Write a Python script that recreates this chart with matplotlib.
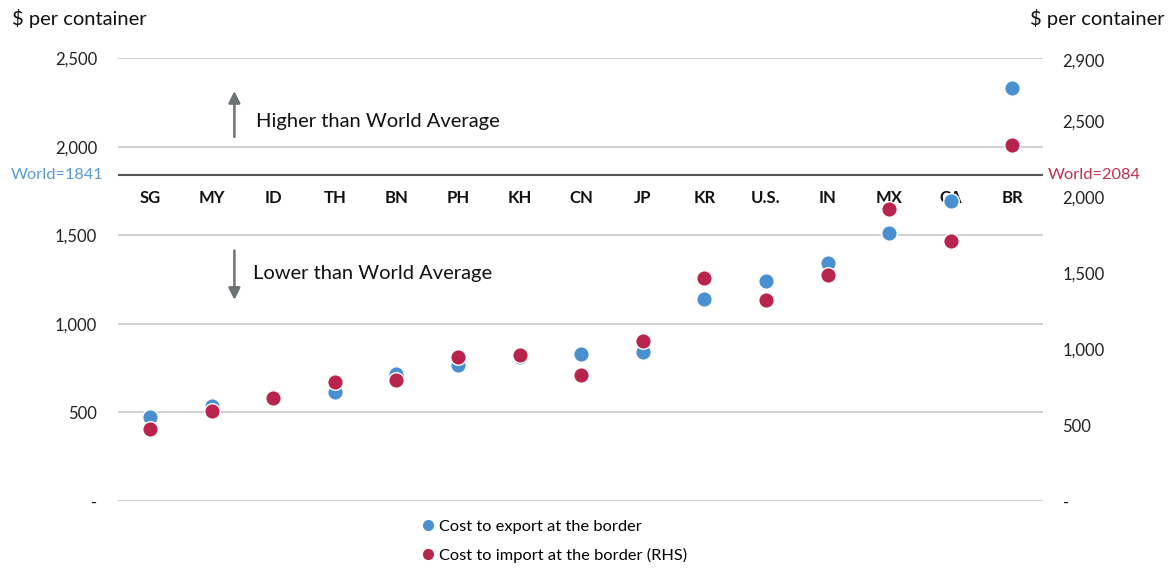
import matplotlib
matplotlib.use("Agg")
import matplotlib.pyplot as plt
from matplotlib.lines import Line2D

plt.rcParams['font.family'] = ['Lato', 'DejaVu Sans']

countries = ["SG", "MY", "ID", "TH", "BN", "PH", "KH", "CN", "JP", "KR", "U.S.", "IN", "MX", "CA", "BR"]
export_cost = [474, 536, 585, 615, 717, 767, 815, 830, 841, 1140, 1242, 1343, 1512, 1693, 2331]
import_cost = [472, 590, 681, 786, 799, 950, 963, 832, 1055, 1468, 1324, 1488, 1920, 1710, 2346]
world_export = 1841
world_import = 2084
left_ticks = [0, 500, 1000, 1500, 2000, 2500]
right_ticks = [0, 500, 1000, 1500, 2000, 2500, 2900]

BLUE = "#4a8fd0"
RED = "#b9244c"

def fmt(v):
    return "-" if v == 0 else f"{v:,}"

fig = plt.figure(figsize=(11.74, 5.70), dpi=100)
ax = fig.add_axes([0.1005, 0.121, 0.788, 0.777])
ax2 = ax.twinx()

x = list(range(len(countries)))
ax.set_xlim(-0.52, len(countries) - 0.5)
ax.set_ylim(0, 2500)
ax2.set_ylim(13, 2916)

for t in left_ticks:
    ax.axhline(t, color="#c8c8c8", lw=1.2, zorder=0)
ax.axhline(world_export, color="#555555", lw=1.5, zorder=1)

ax.set_yticks(left_ticks)
ax.set_yticklabels([fmt(t) for t in left_ticks], fontsize=12, color="#222222")
ax2.set_yticks(right_ticks)
ax2.set_yticklabels([fmt(t) for t in right_ticks], fontsize=12, color="#222222")
ax.tick_params(axis='y', length=0, pad=15)
ax2.tick_params(axis='y', length=0, pad=14)
ax.set_xticks([])
for a in (ax, ax2):
    for s in a.spines.values():
        s.set_visible(False)

ax.scatter(x, export_cost, s=125, color=BLUE, edgecolor="white", linewidth=1.0, zorder=3)
ax2.scatter(x, import_cost, s=125, color=RED, edgecolor="white", linewidth=1.0, zorder=3)

for i, c in enumerate(countries):
    ax.text(i, 1708, c, ha="center", va="center", fontsize=12, fontweight="bold", color="#111111", zorder=2)

ax.text(-0.016, world_export, "World=1841", transform=ax.get_yaxis_transform(), ha="right", va="center",
        fontsize=11.8, color="#5b9bd5")
ax.text(1.005, world_export, "World=2084", transform=ax.get_yaxis_transform(), ha="left", va="center",
        fontsize=11.8, color="#c0304f")

ax.annotate("", xy=(1.37, 2330), xytext=(1.37, 2040),
            arrowprops=dict(arrowstyle="-|>,head_width=0.35,head_length=0.7", color="#6d7275", lw=1.8))
ax.annotate("", xy=(1.37, 1120), xytext=(1.37, 1430),
            arrowprops=dict(arrowstyle="-|>,head_width=0.35,head_length=0.7", color="#6d7275", lw=1.8))
ax.text(1.72, 2140, "Higher than World Average", fontsize=14.5, color="#111111", va="center")
ax.text(1.68, 1283, "Lower than World Average", fontsize=14.5, color="#111111", va="center")

fig.text(12/1174, 1 - 18/570, "$ per container", fontsize=14.5, ha="left", va="center", color="#111111")
fig.text(1165/1174, 1 - 18/570, "$ per container", fontsize=14.5, ha="right", va="center", color="#111111")

handles = [Line2D([], [], marker="o", ls="", color=BLUE, markersize=7),
           Line2D([], [], marker="o", ls="", color=RED, markersize=7)]
fig.legend(handles, ["Cost to export at the border", "Cost to import at the border (RHS)"],
           loc="upper left", bbox_to_anchor=(412/1174, 1 - 513/570), frameon=False, fontsize=11.8,
           handletextpad=0.05, labelspacing=0.85, handlelength=1.2, borderaxespad=0)

fig.savefig("out.png", dpi=100)
